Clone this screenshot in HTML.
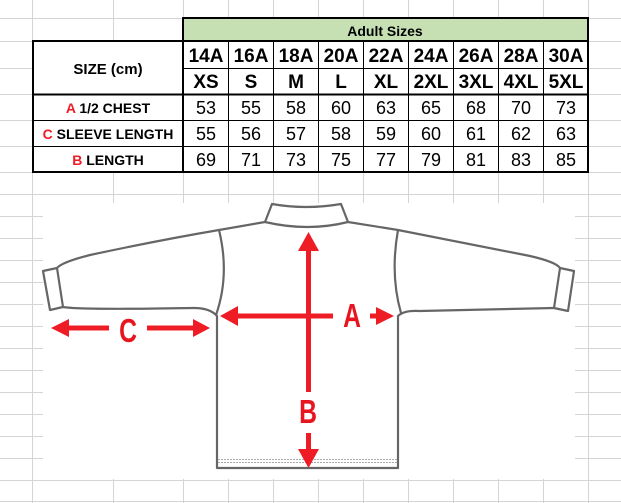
<!DOCTYPE html>
<html><head><meta charset="utf-8"><style>
html,body{margin:0;padding:0;background:#fff;}
svg{display:block;}
.h{font-family:"Liberation Sans",sans-serif;font-weight:bold;font-size:19px;text-anchor:middle;fill:#000;}
.n{font-family:"Liberation Sans",sans-serif;font-size:18px;text-anchor:middle;fill:#000;}
.l{font-family:"Liberation Sans",sans-serif;font-weight:bold;font-size:14px;text-anchor:middle;fill:#000;}
.r{fill:#ee1c25;}
.big{font-family:"Liberation Sans",sans-serif;font-weight:bold;font-size:33px;text-anchor:middle;fill:#e8141e;}
</style></head><body>
<svg width="621" height="503" viewBox="0 0 621 503" xmlns="http://www.w3.org/2000/svg">
<g stroke="#d4d4d4" stroke-width="1">
<line x1="32.5" y1="0" x2="32.5" y2="503"/><line x1="113.5" y1="0" x2="113.5" y2="503"/>
<line x1="183.5" y1="0" x2="183.5" y2="503"/><line x1="228.5" y1="0" x2="228.5" y2="503"/>
<line x1="273.5" y1="0" x2="273.5" y2="503"/><line x1="318.5" y1="0" x2="318.5" y2="503"/>
<line x1="363.5" y1="0" x2="363.5" y2="503"/><line x1="408.5" y1="0" x2="408.5" y2="503"/>
<line x1="453.5" y1="0" x2="453.5" y2="503"/><line x1="498.5" y1="0" x2="498.5" y2="503"/>
<line x1="543.5" y1="0" x2="543.5" y2="503"/><line x1="588.5" y1="0" x2="588.5" y2="503"/>
<line x1="0" y1="18.5" x2="621" y2="18.5"/><line x1="0" y1="41.5" x2="621" y2="41.5"/>
<line x1="0" y1="68.5" x2="621" y2="68.5"/><line x1="0" y1="94.5" x2="621" y2="94.5"/>
<line x1="0" y1="120.5" x2="621" y2="120.5"/><line x1="0" y1="146.5" x2="621" y2="146.5"/>
<line x1="0" y1="172.5" x2="621" y2="172.5"/><line x1="0" y1="194.5" x2="621" y2="194.5"/>
<line x1="0" y1="216.5" x2="621" y2="216.5"/><line x1="0" y1="238.5" x2="621" y2="238.5"/>
<line x1="0" y1="260.5" x2="621" y2="260.5"/><line x1="0" y1="282.5" x2="621" y2="282.5"/>
<line x1="0" y1="304.5" x2="621" y2="304.5"/><line x1="0" y1="326.5" x2="621" y2="326.5"/>
<line x1="0" y1="348.5" x2="621" y2="348.5"/><line x1="0" y1="370.5" x2="621" y2="370.5"/>
<line x1="0" y1="392.5" x2="621" y2="392.5"/><line x1="0" y1="414.5" x2="621" y2="414.5"/>
<line x1="0" y1="436.5" x2="621" y2="436.5"/><line x1="0" y1="458.5" x2="621" y2="458.5"/>
<line x1="0" y1="480.5" x2="621" y2="480.5"/><line x1="0" y1="501.5" x2="621" y2="501.5"/>
</g>
<rect x="33" y="42" width="555" height="130" fill="#fff"/>
<rect x="184" y="19" width="404" height="22" fill="#c6e0b4"/>
<g stroke="#000" stroke-width="1" fill="none">
<line x1="184" y1="68.5" x2="588" y2="68.5"/>
<line x1="33" y1="120.5" x2="588" y2="120.5"/><line x1="33" y1="146.5" x2="588" y2="146.5"/>
<line x1="228.5" y1="42" x2="228.5" y2="172"/><line x1="273.5" y1="42" x2="273.5" y2="172"/>
<line x1="318.5" y1="42" x2="318.5" y2="172"/><line x1="363.5" y1="42" x2="363.5" y2="172"/>
<line x1="408.5" y1="42" x2="408.5" y2="172"/><line x1="453.5" y1="42" x2="453.5" y2="172"/>
<line x1="498.5" y1="42" x2="498.5" y2="172"/><line x1="543.5" y1="42" x2="543.5" y2="172"/>
</g>
<g stroke="#000" stroke-width="2" fill="none">
<rect x="183" y="18" width="405" height="23"/>
<rect x="33" y="41" width="555" height="131"/>
<line x1="183" y1="41" x2="183" y2="172"/>
<line x1="33" y1="94.5" x2="588" y2="94.5"/>
</g>
<text x="385" y="36" class="l">Adult Sizes</text>
<text x="108" y="74" class="l" style="font-size:15px">SIZE (cm)</text>
<g class="h">
<text x="206" y="62">14A</text><text x="251" y="62">16A</text><text x="296" y="62">18A</text><text x="341" y="62">20A</text><text x="386" y="62">22A</text><text x="431" y="62">24A</text><text x="476" y="62">26A</text><text x="521" y="62">28A</text><text x="566" y="62">30A</text>
<text x="206" y="88">XS</text><text x="251" y="88">S</text><text x="296" y="88">M</text><text x="341" y="88">L</text><text x="386" y="88">XL</text><text x="431" y="88">2XL</text><text x="476" y="88">3XL</text><text x="521" y="88">4XL</text><text x="566" y="88">5XL</text>
</g>
<text x="108" y="113" class="l"><tspan fill="#ee1c25">A</tspan> 1/2 CHEST</text>
<text x="108" y="139" class="l"><tspan fill="#ee1c25">C</tspan> SLEEVE LENGTH</text>
<text x="108" y="165" class="l"><tspan fill="#ee1c25">B</tspan> LENGTH</text>
<g class="n">
<text x="206" y="114">53</text><text x="251" y="114">55</text><text x="296" y="114">58</text><text x="341" y="114">60</text><text x="386" y="114">63</text><text x="431" y="114">65</text><text x="476" y="114">68</text><text x="521" y="114">70</text><text x="566" y="114">73</text>
<text x="206" y="140">55</text><text x="251" y="140">56</text><text x="296" y="140">57</text><text x="341" y="140">58</text><text x="386" y="140">59</text><text x="431" y="140">60</text><text x="476" y="140">61</text><text x="521" y="140">62</text><text x="566" y="140">63</text>
<text x="206" y="166">69</text><text x="251" y="166">71</text><text x="296" y="166">73</text><text x="341" y="166">75</text><text x="386" y="166">77</text><text x="431" y="166">79</text><text x="476" y="166">81</text><text x="521" y="166">83</text><text x="566" y="166">85</text>
</g>
<rect x="43" y="203" width="532" height="276" fill="#fff"/>
<g stroke="#666" stroke-width="2.2" fill="none" stroke-linejoin="round">
<path d="M272 204 Q306 210 341 204 L348 222 Q308 232 265 222 Z"/>
<path d="M265 222 L219 230 Q160 240 90 255 Q62 262 57 268"/>
<path d="M348 222 L398 230 Q460 242 530 256 Q556 262 560 268"/>
<path d="M219 230 Q230 275 216 315"/>
<path d="M398 230 Q390 275 401 313"/>
<path d="M43 271 L57 268 L63 307 L50 310 Z"/>
<path d="M574 271 L560 268 L554 308 L568 311 Z"/>
<path d="M63 307 Q80 310 194 308 Q210 308 217 316 L217 468 L398 468 L398 316 Q404 310 420 311 L554 308"/>
</g>
<g stroke="#aaa" stroke-width="1" stroke-dasharray="2,1">
<line x1="218" y1="459.5" x2="397" y2="459.5"/><line x1="218" y1="462.5" x2="397" y2="462.5"/>
</g>
<g class="r">
<rect x="306" y="248" width="5" height="144"/>
<polygon points="308.5,232 298,251 319,251"/>
<rect x="306" y="433" width="5" height="18"/>
<polygon points="308.5,468 298,449 319,449"/>
<rect x="236" y="313.5" width="97" height="5"/>
<polygon points="220,316 238,306 238,326"/>
<rect x="370" y="313.5" width="8" height="5"/>
<polygon points="394,316 376,307 376,325"/>
<rect x="67" y="325.5" width="42" height="5"/>
<polygon points="51,328 69,319 69,337"/>
<rect x="147" y="325.5" width="48" height="5"/>
<polygon points="210,328 193,319 193,337"/>
</g>
<text class="big" transform="translate(352,327) scale(0.75,1)">A</text>
<text class="big" transform="translate(308,423) scale(0.75,1)">B</text>
<text class="big" transform="translate(128,342) scale(0.75,1)">C</text>
</svg>
</body></html>
